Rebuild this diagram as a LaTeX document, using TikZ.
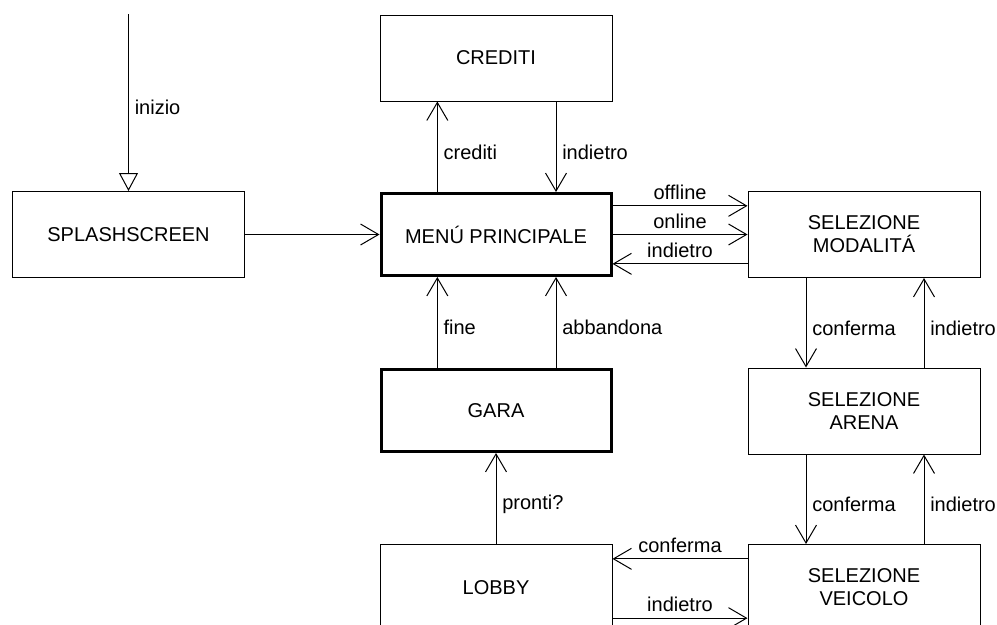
\documentclass[tikz,border=0pt]{standalone}
\usepackage{fontspec}
\setmainfont{Liberation Sans}
\usetikzlibrary{arrows.meta}
\begin{document}
\begin{tikzpicture}[
x=.75pt,y=-.75pt,font=\fontsize{15}{17.25}\selectfont,
box/.style={draw,line width=.75pt,minimum width=174pt,minimum height=64.5pt,align=center,inner sep=0pt},
bbox/.style={box,line width=2.25pt,minimum width=172.5pt,minimum height=61.5pt},
-->/.style={-{Straight Barb[length=13.5pt,width=15.75pt]},line width=.75pt},
--|>/.style={-{Triangle[open,length=13.5pt,width=14.25pt]},line width=.75pt},
lr/.style={anchor=west,xshift=1pt,yshift=-4pt,inner sep=3.33pt},
la/.style={anchor=south,yshift=1pt,inner sep=3.33pt},
]
\useasboundingbox (0,0) rectangle (997,625);
\clip (0,0) rectangle (997,625);

\coordinate (st) at (128.5,14);
\node[box] (sp) at (128.5,234.5) {SPLASHSCREEN};
\node[box] (cr) at (496,58) {CREDITI};
\node[bbox] (mp) at (496,234.5) {MENÚ PRINCIPALE};
\node[bbox] (ga) at (496,410.5) {GARA};
\node[box] (lo) at (496,587.5) {LOBBY};
\node[box] (sm) at (864,234.5) {SELEZIONE\\MODALITÁ};
\node[box] (sa) at (864,411) {SELEZIONE\\ARENA};
\node[box] (sv) at (864,587.5) {SELEZIONE\\VEICOLO};

\draw[--|>] (st) -- (sp) node[lr,midway] {inizio};
\draw[-->] (sp) -- (mp);
\draw[-->] ([xshift=-44pt]mp.north) -- ([xshift=-44pt]cr.south) node[lr,midway] {crediti};
\draw[-->] ([xshift=45pt]cr.south) -- ([xshift=45pt]mp.north) node[lr,midway] {indietro};
\draw[-->] ([yshift=21.5pt]mp.east) -- ([yshift=21.5pt]sm.west) node[la,midway] {offline};
\draw[-->] (mp) -- (sm) node[la,midway] {online};
\draw[-->] ([yshift=-22pt]sm.west) -- ([yshift=-22pt]mp.east) node[la,midway] {indietro};
\draw[-->] ([xshift=-44pt]ga.north) -- ([xshift=-44pt]mp.south) node[lr,midway] {fine};
\draw[-->] ([xshift=45pt]ga.north) -- ([xshift=45pt]mp.south) node[lr,midway] {abbandona};
\draw[-->] (lo) -- (ga) node[lr,midway] {pronti?};

\draw[-->] ([xshift=-43.5pt]sm.south) -- ([xshift=-43.5pt]sa.north) node[lr,midway] {conferma};
\draw[-->] ([xshift=45pt]sa.north) -- ([xshift=45pt]sm.south) node[lr,midway] {indietro};
\draw[-->] ([xshift=-43.5pt]sa.south) -- ([xshift=-43.5pt]sv.north) node[lr,midway] {conferma};
\draw[-->] ([xshift=45pt]sv.north) -- ([xshift=45pt]sa.south) node[lr,midway] {indietro};
\draw[-->] ([yshift=21.5pt]sv.west) -- ([yshift=21.5pt]lo.east) node[la,midway] {conferma};
\draw[-->] ([yshift=-23pt]lo.east) -- ([yshift=-23pt]sv.west) node[la,midway] {indietro};

\end{tikzpicture}
\end{document}
